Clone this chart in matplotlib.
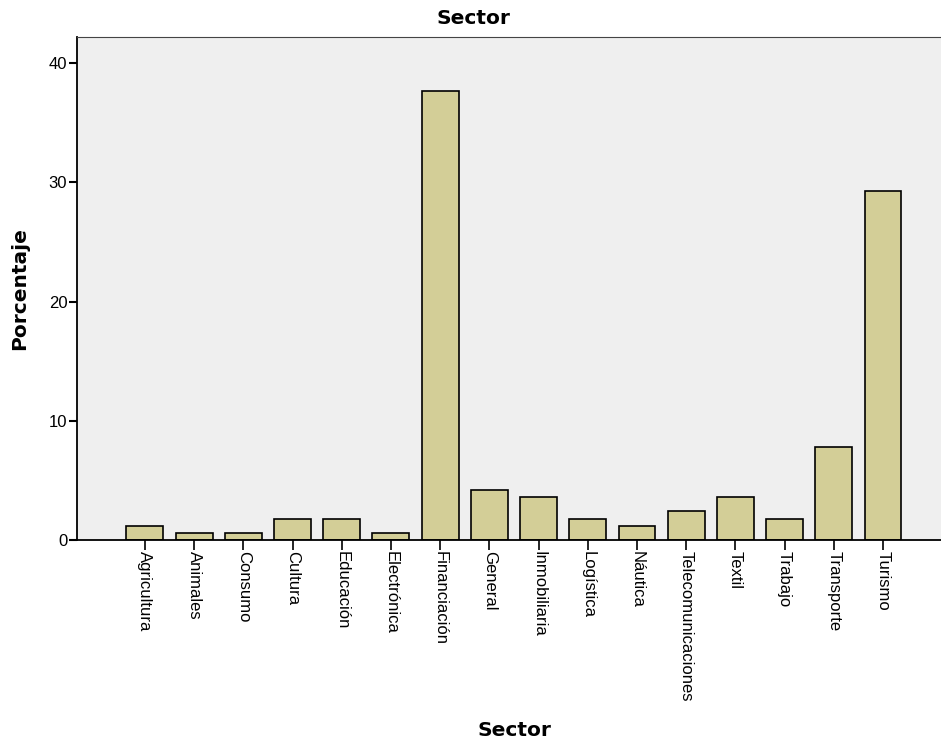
import matplotlib.pyplot as plt

# Data
sectores = ['Agricultura', 'Animales', 'Consumo', 'Cultura', 'Educación',
            'Electrónica', 'Financiación', 'General', 'Inmobiliaria',
            'Logística', 'Náutica', 'Telecomunicaciones', 'Textil',
            'Trabajo', 'Transporte', 'Turismo']
porcentaje = [1.2, 0.6, 0.6, 1.8, 1.8, 0.6, 37.7, 4.2, 3.6, 1.8, 1.2,
              2.4, 3.6, 1.8, 7.8, 29.3]

plt.rcParams['font.family'] = ['Liberation Sans', 'DejaVu Sans']
bold = {'family': 'DejaVu Sans', 'size': 14.5, 'weight': 'bold'}

fig = plt.figure(figsize=(9.41, 7.43), dpi=100)
ax = fig.add_axes([77 / 941, 1 - 540 / 743, 870 / 941, 503 / 743])
ax.set_facecolor('#efefef')

x = list(range(len(sectores)))
ax.bar(x, porcentaje, width=0.75, color='#d3ce97', edgecolor='black',
       linewidth=1.2, zorder=2)

ax.set_xlim(-1.38, 16.3)
ax.set_ylim(0, 42.2)
ax.set_yticks([0, 10, 20, 30, 40])
ax.set_xticks(x)
ax.set_xticklabels(sectores, rotation=270, fontsize=12)
ax.tick_params(axis='y', labelsize=12, length=6, width=1.5, pad=1)
ax.tick_params(axis='x', length=7, width=1.2, pad=1)

for side in ['left', 'bottom']:
    ax.spines[side].set_linewidth(1.3)
ax.spines['top'].set_color('#444444')
ax.spines['right'].set_visible(False)

ax.set_ylabel('Porcentaje', fontdict=bold)
ax.yaxis.set_label_coords(-0.055, 0.5)
fig.text(473 / 941, 1 - 18 / 743, 'Sector', fontdict=bold,
         ha='center', va='center')
fig.text(514 / 941, 1 - 730 / 743, 'Sector', fontdict=bold,
         ha='center', va='center')

fig.savefig('out.png', dpi=100)
